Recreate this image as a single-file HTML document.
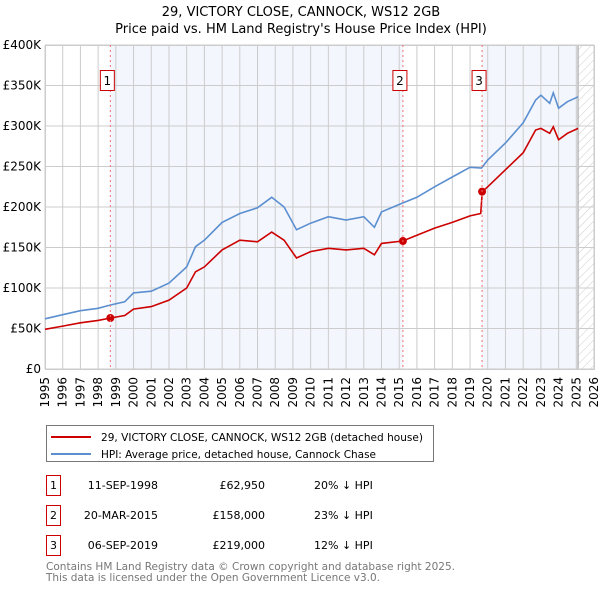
<!DOCTYPE html>
<html><head><meta charset="utf-8"><style>
body{margin:0;width:600px;height:590px;background:#fff;font-family:"DejaVu Sans","Liberation Sans",sans-serif;overflow:hidden}
svg text{font-family:"DejaVu Sans","Liberation Sans",sans-serif}
</style></head><body>
<svg id="chart" width="600" height="590" xmlns="http://www.w3.org/2000/svg">
<defs><pattern id="hatch" width="6" height="6" patternUnits="userSpaceOnUse" patternTransform="rotate(45)"><line x1="0" y1="0" x2="0" y2="6" stroke="#ccc" stroke-width="1"/></pattern></defs>
<text x="301" y="16" text-anchor="middle" font-size="13">29, VICTORY CLOSE, CANNOCK, WS12 2GB</text>
<text x="301" y="33" text-anchor="middle" font-size="13">Price paid vs. HM Land Registry's House Price Index (HPI)</text>
<g id="bg"></g><g id="grid"></g><g id="axes"></g><g id="lines"></g><g id="marks"></g>
<g>
<rect x="46.5" y="425.5" width="387" height="36" fill="#fff" stroke="#777"/>
<line x1="51" y1="437" x2="91" y2="437" stroke="#cc0000" stroke-width="2"/>
<text x="101" y="441" font-size="11" textLength="322" lengthAdjust="spacingAndGlyphs">29, VICTORY CLOSE, CANNOCK, WS12 2GB (detached house)</text>
<line x1="51" y1="454" x2="91" y2="454" stroke="#5b8fd0" stroke-width="2"/>
<text x="101" y="458" font-size="11" textLength="275" lengthAdjust="spacingAndGlyphs">HPI: Average price, detached house, Cannock Chase</text>
</g>
<g id="table" font-size="11"></g>
<text x="46" y="570" font-size="11" fill="#777" textLength="409" lengthAdjust="spacingAndGlyphs">Contains HM Land Registry data © Crown copyright and database right 2025.</text>
<text x="46" y="581" font-size="11" fill="#777" textLength="334" lengthAdjust="spacingAndGlyphs">This data is licensed under the Open Government Licence v3.0.</text>
</svg>
<script>
const hpiYears=[1995,1996,1997,1998,1998.7,1999.5,2000,2001,2002,2003,2003.5,2004,2005,2006,2007,2007.8,2008.5,2009.2,2010,2011,2012,2013,2013.6,2014,2015.2,2016,2017,2018,2019,2019.65,2020,2021,2022,2022.7,2023,2023.5,2023.7,2024,2024.5,2025.1];
const hpiValues=[62,67,72,75,79,83,94,96,106,126,151,159,181,192,199,212,200,172,180,188,184,188,175,194,205,212,225,237,249,248,258,279,304,332,338,328,341,322,330,336];
const priceYears=[1995,1996,1997,1998,1998.7,1999.5,2000,2001,2002,2003,2003.5,2004,2005,2006,2007,2007.8,2008.5,2009.2,2010,2011,2012,2013,2013.6,2014,2015.2,2016,2017,2018,2019,2019.6,2019.69,2020,2021,2022,2022.7,2023,2023.5,2023.7,2024,2024.5,2025.1];
const priceValues=[49,53,57,60,63,66,74,77,85,100,120,126,147,159,157,169,159,137,145,149,147,149,141,155,158,165,174,181,189,192,219,225,246,267,295,297,291,299,283,291,297];
const saleLabels=["1","2","3"];
const saleYears=[1998.69,2015.21,2019.68];
const salePrices=[62.95,158,219];
const saleDates=["11-SEP-1998","20-MAR-2015","06-SEP-2019"];
const salePriceText=["£62,950","£158,000","£219,000"];
const saleHpiText=["20% ↓ HPI","23% ↓ HPI","12% ↓ HPI"];
const yTicks=[0,50,100,150,200,250,300,350,400];
const yTickLabels=["£0","£50K","£100K","£150K","£200K","£250K","£300K","£350K","£400K"];
const xTicks=[1995,1996,1997,1998,1999,2000,2001,2002,2003,2004,2005,2006,2007,2008,2009,2010,2011,2012,2013,2014,2015,2016,2017,2018,2019,2020,2021,2022,2023,2024,2025,2026];
const X0=45,X1=594,Y0=369,Y1=45;
const xs=y=>X0+(y-1995)/(2026-1995)*(X1-X0);
const ys=v=>Y0-v/400*(Y0-Y1);
const NS="http://www.w3.org/2000/svg";
function mk(tag,attrs,parent){const e=document.createElementNS(NS,tag);for(const k in attrs)e.setAttribute(k,attrs[k]);parent.appendChild(e);return e;}
const bg=document.getElementById('bg'),grid=document.getElementById('grid'),axes=document.getElementById('axes'),lines=document.getElementById('lines'),marks=document.getElementById('marks'),table=document.getElementById('table');
const hatchStart=2025.1;
let r=mk('rect',{x:xs(saleYears[0]),y:Y1,width:xs(saleYears[1])-xs(saleYears[0]),height:Y0-Y1,fill:'#f3f6fd'},bg);


r=mk('rect',{x:xs(saleYears[2]),y:Y1,width:xs(hatchStart)-xs(saleYears[2]),height:Y0-Y1,fill:'#f3f6fd'},bg);


r=mk('rect',{x:xs(hatchStart),y:Y1,width:X1-xs(hatchStart),height:Y0-Y1,fill:'url(#hatch)'},bg);


mk('line',{x1:xs(hatchStart),y1:Y1,x2:xs(hatchStart),y2:Y0,stroke:'#999','stroke-width':1},bg);
xTicks.forEach(t=>{const l=mk('line',{x1:xs(t),y1:Y1,x2:xs(t),y2:Y0,stroke:'#ccc','stroke-width':1},grid);


const tx=mk('text',{x:0,y:0,'font-size':12,'text-anchor':'end',transform:`translate(${xs(t)+4},${Y0+8}) rotate(-90)`},axes);tx.textContent=t;

});
yTicks.forEach((t,i)=>{const l=mk('line',{x1:X0,y1:ys(t),x2:X1,y2:ys(t),stroke:'#ccc','stroke-width':1},grid);


const tx=mk('text',{x:X0-4,y:ys(t)+4,'font-size':12,'text-anchor':'end'},axes);tx.textContent=yTickLabels[i];

});
saleYears.forEach((y,i)=>{const l=mk('line',{x1:xs(y),y1:Y1,x2:xs(y),y2:Y0,stroke:'#f07070','stroke-width':1,'stroke-dasharray':'2,3'},marks);


const bx=xs(y)-3;const b=mk('rect',{x:bx-7,y:70.5,width:14,height:20,fill:'#fff',stroke:'#cc0000'},marks);


const t=mk('text',{x:bx,y:85,'font-size':12,'text-anchor':'middle'},marks);t.textContent=saleLabels[i];

});
function path(xa,va,color,name){const d=xa.map((x,i)=>(i?'L':'M')+xs(x).toFixed(1)+','+ys(va[i]).toFixed(1)).join('');
const p=mk('path',{d:d,fill:'none',stroke:color,'stroke-width':1.6},lines);

}
path(hpiYears,hpiValues,'#5b8fd0','hpi-line');
path(priceYears,priceValues,'#cc0000','price-paid-line');
saleYears.forEach((y,i)=>{const c=mk('circle',{cx:xs(y),cy:ys(salePrices[i]),r:4,fill:'#cc0000'},lines);


const ry=475+i*30;
const b=mk('rect',{x:46.5,y:ry+.5,width:14,height:20,fill:'#fff',stroke:'#cc0000'},table);


const vals=[[53.5,saleLabels[i],'middle'],[158,saleDates[i],'end'],[265,salePriceText[i],'end'],[314,saleHpiText[i],'start']];
vals.forEach(v=>{const t=mk('text',{x:v[0],y:ry+14,'text-anchor':v[2]},table);t.textContent=v[1];

});});
mk('rect',{x:X0+.5,y:Y1+.5,width:X1-X0,height:Y0-Y1,fill:'none',stroke:'#ccc'},axes);
</script>
</body></html>
